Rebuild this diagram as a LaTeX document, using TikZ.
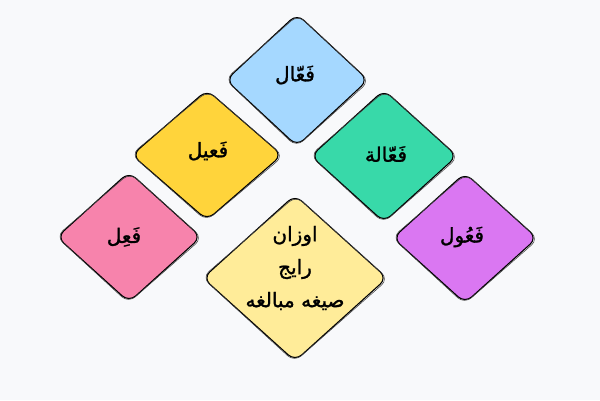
\documentclass[tikz,border=0pt]{standalone}
\usepackage{fontspec}
\newfontfamily\arabicfont[Script=Arabic,FakeBold=1.3]{DejaVu Sans}
\TeXXeTstate=1
\definecolor{bgc}{HTML}{F8F9FB}
\definecolor{cblue}{HTML}{A5D8FF}
\definecolor{cyell}{HTML}{FFD43B}
\definecolor{cgreen}{HTML}{38D9A9}
\definecolor{cpink}{HTML}{F783AC}
\definecolor{cpurp}{HTML}{DA77F2}
\definecolor{clight}{HTML}{FFEC99}
\tikzset{
  lbl/.style={font=\arabicfont\fontsize{20}{33}\selectfont, align=center, inner sep=0pt, text=black},
  mainline/.style={draw=black, line width=1.1pt, rounded corners=9pt, line join=round},
  sketchline/.style={draw=black!75, line width=0.55pt, rounded corners=9pt, line join=round},
}
% cx, cy, hw, hh, colour
\newcommand\rdiam[5]{%
  \fill[#5, rounded corners=9pt] (#1,{#2-#4}) -- ({#1+#3},#2) -- (#1,{#2+#4}) -- ({#1-#3},#2) -- cycle;
  \path[mainline] (#1,{#2-#4}) -- ({#1+#3},#2) -- (#1,{#2+#4}) -- ({#1-#3},#2) -- cycle;
  \path[sketchline] ({#1+1},{#2-#4+0.8}) -- ({#1+#3+1.4},{#2+1}) -- ({#1-0.6},{#2+#4+0.9}) -- ({#1-#3-0.9},{#2-0.6}) -- cycle;
}
\begin{document}
\begin{tikzpicture}[x=1pt,y=-1pt]
  \fill[bgc] (0,0) rectangle (600,400);
  \useasboundingbox (0,0) rectangle (600,400);

  \rdiam{297}{80}{71}{66}{cblue}
  \rdiam{207}{155}{75}{65}{cyell}
  \rdiam{384}{156}{73}{66}{cgreen}
  \rdiam{129}{237}{72}{65}{cpink}
  \rdiam{465}{238}{72}{65}{cpurp}
  \rdiam{295}{278}{92}{83}{clight}

  \node[lbl] (faal)   at (295,75)  {\beginR فَعّال\endR};
  \node[lbl] (faiil)  at (208,151) {\beginR فَعیل\endR};
  \node[lbl] (faaala) at (386,154) {\beginR فَعّالة\endR};
  \node[lbl] (fail)   at (124,237) {\beginR فَعِل\endR};
  \node[lbl] (faul)   at (462,237) {\beginR فَعُول\endR};
  \node[lbl] (awzan)  at (295,268) {\beginR اوزان\endR\\ \beginR رایج\endR\\ \beginR صیغه مبالغه\endR};
\end{tikzpicture}
\end{document}
